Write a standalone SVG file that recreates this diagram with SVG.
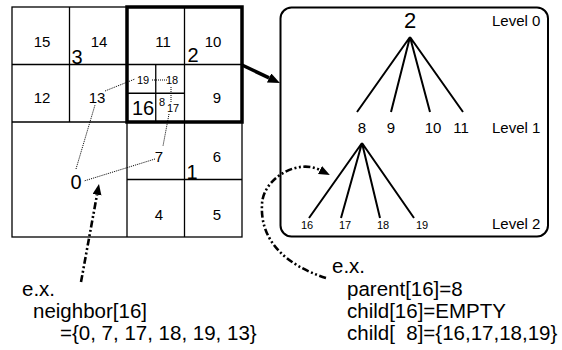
<svg xmlns="http://www.w3.org/2000/svg" width="562" height="350" viewBox="0 0 562 350">
<defs>
<style>
text{font-family:"Liberation Sans",Arial,sans-serif;fill:#000;white-space:pre}
.g{fill:none;stroke:#000;stroke-width:1.3}
.thick{fill:none;stroke:#000;stroke-width:3.5}
.dot{fill:none;stroke:#000;stroke-width:1;stroke-dasharray:1 1}
.tree{stroke:#000;stroke-width:2;fill:none}
.dd{fill:none;stroke:#000;stroke-width:2.6;stroke-dasharray:7 2.5 2 2.5 2 2.5}
.n{font-size:15px;text-anchor:middle}
.b{font-size:20px;text-anchor:middle}
.s{font-size:11px;text-anchor:middle}
.lv{font-size:15px}
.ex{font-size:20.5px}
.gray{opacity:0.999}
</style>
<marker id="ah" markerUnits="userSpaceOnUse" markerWidth="14" markerHeight="12" refX="0" refY="5" orient="auto"><path d="M0,0 L12,5 L0,10 z" fill="#000"/></marker>
<marker id="ah2" markerUnits="userSpaceOnUse" markerWidth="12" markerHeight="10" refX="0" refY="4.5" orient="auto"><path d="M0,0 L11,4.5 L0,9 z" fill="#000"/></marker>
</defs>
<rect width="562" height="350" fill="#fff"/>
<g id="grid">
<rect class="g" x="12" y="7" width="230" height="230"/>
<line class="g" x1="12" y1="64.5" x2="242" y2="64.5"/>
<line class="g" x1="12" y1="122" x2="242" y2="122"/>
<line class="g" x1="69.5" y1="7" x2="69.5" y2="122"/>
<line class="g" x1="127" y1="7" x2="127" y2="237"/>
<line class="g" x1="184.5" y1="7" x2="184.5" y2="237"/>
<line class="g" x1="127" y1="179.5" x2="242" y2="179.5"/>
<line class="g" x1="155.75" y1="64.5" x2="155.75" y2="122"/>
<line class="g" x1="127" y1="93.25" x2="184.5" y2="93.25"/>
<rect class="thick" x="127" y="7" width="115" height="115"/>
</g>
<g id="cells" class="gray">
<text class="n" x="42" y="47">15</text>
<text class="n" x="99" y="47">14</text>
<text class="b" x="77" y="64">3</text>
<text class="n" x="163" y="47">11</text>
<text class="n" x="213" y="47">10</text>
<text class="b" x="193" y="62">2</text>
<text class="n" x="42" y="103">12</text>
<text class="n" x="97" y="103">13</text>
<text class="n" x="217" y="103">9</text>
<text class="s" x="143" y="84">19</text>
<text class="s" x="172" y="84">18</text>
<text class="b" x="143" y="115">16</text>
<text class="s" x="162" y="106">8</text>
<text class="s" x="173" y="112">17</text>
<text class="n" x="159" y="162">7</text>
<text class="n" x="217" y="162">6</text>
<text class="b" x="192" y="179">1</text>
<text class="b" x="76" y="189">0</text>
<text class="n" x="159" y="220">4</text>
<text class="n" x="217" y="220">5</text>
</g>
<g id="tree" class="gray">
<rect x="280.5" y="7.5" width="267.5" height="229" rx="11" ry="11" fill="none" stroke="#000" stroke-width="2"/>
<text x="410" y="28" style="font-size:22px;text-anchor:middle">2</text>
<text class="lv" x="492" y="26">Level 0</text>
<text class="lv" x="492" y="133">Level 1</text>
<text class="lv" x="492" y="229">Level 2</text>
<path class="tree" d="M410,37 L357,112 M410,37 L391,112 M410,37 L430,112 M410,37 L463,112"/>
<text class="n" x="362" y="133">8</text>
<text class="n" x="391" y="133">9</text>
<text class="n" x="433" y="133">10</text>
<text class="n" x="461" y="133">11</text>
<path class="tree" d="M362,143 L309,218 M362,143 L341,218 M362,143 L380,218 M362,143 L414,218"/>
<text class="s" x="307" y="229">16</text>
<text class="s" x="345" y="229">17</text>
<text class="s" x="383" y="229">18</text>
<text class="s" x="422" y="229">19</text>
</g>
<g id="connectors">
<path class="dot" d="M76,169 L95,105 M105,91 L135,79 M152,80 L167,80 M171,87 L171,102 M169,114 L163,146 M155,159 L84,181"/>
<line x1="242" y1="65" x2="269.1" y2="77.9" stroke="#000" stroke-width="3.5" marker-end="url(#ah)"/>
<line class="dd" x1="81" y1="282" x2="97" y2="194.8" marker-end="url(#ah2)"/>
<path class="dd" d="M326,278 C285,265 260,240 262,205 C262,180 296,158 320,170" marker-end="url(#ah2)"/>
</g>
<g id="notes" class="gray">
<text class="ex" x="22" y="296">e.x.</text>
<text class="ex" x="33" y="318">neighbor[16]</text>
<text class="ex" x="60" y="340">={0, 7, 17, 18, 19, 13}</text>
<text class="ex" x="332" y="273">e.x.</text>
<text class="ex" x="347" y="296">parent[16]=8</text>
<text class="ex" x="347" y="318">child[16]=EMPTY</text>
<text class="ex" x="347" y="340">child[  8]={16,17,18,19}</text>
</g>
</svg>
